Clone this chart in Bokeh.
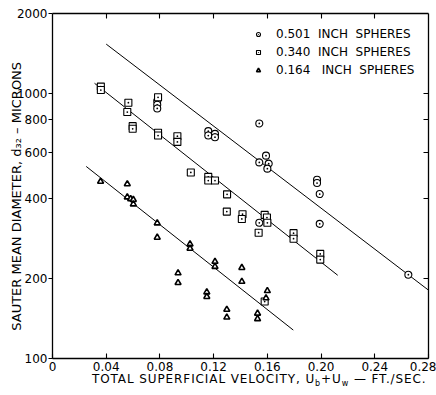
from bokeh.plotting import figure
from bokeh.layouts import column
from bokeh.models import (FixedTicker, LinearAxis, LogAxis, Legend, LegendItem, Div)
from bokeh.embed import file_html
from bokeh.resources import INLINE

# ---- data ----
x_ticks = [0, 0.04, 0.08, 0.12, 0.16, 0.20, 0.24, 0.28]
x_tick_labels = ["0", "0.04", "0.08", "0.12", "0.16", "0.20", "0.24", "0.28"]
y_ticks = [100, 200, 400, 600, 800, 1000, 2000]
y_tick_labels = ["100", "200", "400", "600", "800", "1000", "2000"]

series_names = ["0.501  INCH  SPHERES", "0.340  INCH  SPHERES", "0.164   INCH  SPHERES"]

circ_x = [0.078, 0.078, 0.078, 0.116, 0.116, 0.121, 0.121, 0.154, 0.159, 0.154,
          0.161, 0.160, 0.197, 0.197, 0.199, 0.199, 0.154, 0.265]
circ_y = [935, 905, 877, 720, 693, 703, 683, 770, 582, 549,
          543, 520, 472, 459, 417, 322, 325, 207]

sq_x = [0.036, 0.036, 0.0565, 0.0557, 0.0597, 0.0597, 0.0786, 0.0786, 0.0786,
        0.093, 0.093, 0.103, 0.116, 0.116, 0.121, 0.130, 0.1298, 0.1415, 0.141,
        0.1535, 0.158, 0.1597, 0.160, 0.1795, 0.1795, 0.1994, 0.1994, 0.158]
sq_y = [1060, 1029, 922, 850, 752, 735, 966, 710, 693,
        689, 656, 503, 484, 469, 469, 416, 358, 350, 336,
        298, 348, 340, 325, 297, 283, 248, 236, 164]

tri_x = [0.0358, 0.0557, 0.0557, 0.0582, 0.0602, 0.0602, 0.078, 0.078, 0.1024,
         0.1024, 0.0935, 0.0935, 0.121, 0.121, 0.141, 0.141, 0.1149, 0.1149,
         0.1298, 0.1298, 0.1527, 0.1527, 0.160, 0.159]
tri_y = [465, 455, 406, 400, 397, 382, 324, 286, 270,
         260, 210, 193, 232, 222, 220, 195, 178, 171,
         153, 143, 148, 141, 180, 169]

fit_501_x = [0.040, 0.280]
fit_501_y = [1533, 181]
fit_340_x = [0.0313, 0.2124]
fit_340_y = [1091, 206]
fit_164_x = [0.0251, 0.1793]
fit_164_y = [530, 128]

FONT = "DejaVu Sans"

p = figure(width=436, height=373, x_range=(0, 0.28), y_range=(100, 2000),
           y_axis_type="log", output_backend="svg", toolbar_location=None,
           min_border_left=52, min_border_right=8, min_border_top=13,
           min_border_bottom=15)
p.grid.visible = False
p.outline_line_color = None
p.background_fill_color = "white"
p.border_fill_color = "white"

# fitted lines
for lx, ly in [(fit_501_x, fit_501_y), (fit_340_x, fit_340_y), (fit_164_x, fit_164_y)]:
    p.line(lx, ly, line_color="black", line_width=1.0)

r_c = p.scatter(circ_x, circ_y, marker="circle_dot", size=7, line_color="black",
                fill_color="white", line_width=1.1)
r_s = p.scatter(sq_x, sq_y, marker="square_dot", size=7, line_color="black",
                fill_color="white", line_width=1.1)
r_t = p.scatter(tri_x, tri_y, marker="triangle", size=6, line_color="black",
                fill_color="white", line_width=1.6)

# axes
def style_axis(ax):
    ax.axis_line_color = "black"
    ax.axis_line_width = 1.3
    ax.major_tick_line_color = "black"
    ax.major_tick_line_width = 1.1
    ax.minor_tick_line_color = None
    ax.major_label_text_font = FONT
    ax.major_label_text_font_size = "12px"
    ax.major_label_text_color = "black"
    ax.axis_label_text_font = FONT
    ax.axis_label_text_font_size = "13px"
    ax.axis_label_text_font_style = "normal"
    ax.axis_label_text_color = "black"

xa = p.xaxis[0]
xa.ticker = FixedTicker(ticks=x_ticks)
xa.major_label_overrides = dict(zip(x_ticks, x_tick_labels))
style_axis(xa)
xa.major_tick_in = 5
xa.major_tick_out = 0
xa.major_label_standoff = 3

ya = p.yaxis[0]
ya.ticker = FixedTicker(ticks=y_ticks)
ya.major_label_overrides = dict(zip(y_ticks, y_tick_labels))
style_axis(ya)
ya.major_tick_in = 0
ya.major_tick_out = 4
ya.major_label_standoff = 1
ya.axis_label = "SAUTER  MEAN  DIAMETER,  d\u2083\u2082  \u2013  MICRONS"
ya.axis_label_standoff = -10

top_ticks = x_ticks[1:-1]
top = LinearAxis(ticker=FixedTicker(ticks=top_ticks))
style_axis(top)
top.major_tick_in = 5
top.major_tick_out = 0
top.major_label_overrides = {t: "" for t in top_ticks}
top.major_label_standoff = 0
p.add_layout(top, "above")

right_ticks = y_ticks[1:-1]
right = LogAxis(ticker=FixedTicker(ticks=right_ticks))
style_axis(right)
right.major_tick_in = 5
right.major_tick_out = 0
right.major_label_overrides = {t: "" for t in right_ticks}
right.major_label_standoff = 0
p.add_layout(right, "right")

# legend (location = bottom-left corner, frame pixels)
legend = Legend(items=[LegendItem(label=series_names[0], renderers=[r_c]),
                       LegendItem(label=series_names[1], renderers=[r_s]),
                       LegendItem(label=series_names[2], renderers=[r_t])],
                location=(201, 281), padding=0, spacing=4, glyph_width=10,
                glyph_height=14, label_height=14, label_standoff=13,
                border_line_alpha=0, background_fill_alpha=0,
                label_text_font=FONT, label_text_font_size="12px",
                label_text_color="black")
p.add_layout(legend, "center")

# x-axis title with real subscripts
xlabel = Div(
    text=('<div style="font-family:\'DejaVu Sans\';font-size:12px;line-height:12px;'
          'letter-spacing:0.9px;white-space:pre;color:black;padding-left:92px;'
          'margin:0;position:relative;top:-2px;">'
          'TOTAL SUPERFICIAL VELOCITY, U<sub style="font-size:8px;">b</sub>'
          '+U<sub style="font-size:8px;">w</sub> \u2014 FT./SEC.</div>'),
    width=436, height=22, margin=(0, 0, 0, 0))

layout = column(p, xlabel, spacing=0)
open("out.html", "w").write(file_html(layout, INLINE))
